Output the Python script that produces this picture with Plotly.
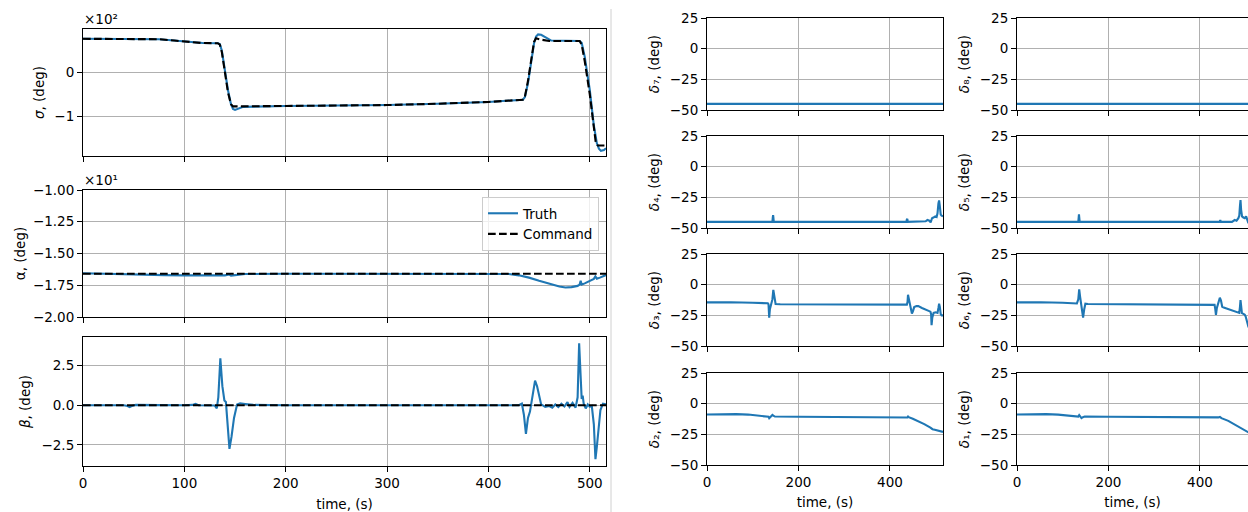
import plotly.graph_objects as go

W, H = 1248, 512

# ---------------- data ----------------
t_sig_cmd = [0, 60, 75, 90, 105, 118, 133, 135, 137, 140, 143, 146, 148, 200, 250, 300, 350, 400,
             434, 436, 439, 442, 445, 447, 452, 460, 490, 492, 495, 500, 504, 506, 508, 516]
sig_cmd = [75, 75, 74, 71, 67.5, 65.5, 65, 62, 45, 0, -45, -72, -77, -76, -75, -74, -71, -67,
           -62, -55, -20, 30, 68, 76, 73, 70, 70, 62, 25, -50, -130, -160, -165, -165]

t_sig = [0, 60, 75, 90, 105, 118, 133, 135, 137, 140, 143, 146, 148, 150, 153, 158, 200, 250, 300,
         350, 400, 434, 436, 439, 442, 445, 447, 449, 452, 456, 462, 490, 492, 495, 500, 504, 507,
         509, 511, 514, 516]
sig_truth = [75, 75, 74, 71, 67.5, 65.5, 65, 63, 48, 5, -40, -72, -83, -85, -82, -78, -76, -75, -74,
             -71, -67, -62, -56, -25, 25, 65, 80, 85, 84, 78, 71, 70, 66, 35, -40, -120, -160,
             -172, -177, -175, -171]

t_alpha_cmd = [0, 516]
alpha_cmd = [-16.6, -16.6]
t_alpha = [0, 20, 40, 60, 80, 100, 120, 140, 144, 146, 150, 160, 200, 300, 400, 420, 430, 440, 450,
           460, 470, 476, 482, 488, 490, 491, 492, 495, 500, 504, 505.5, 507, 510, 516]
alpha_truth = [-16.55, -16.6, -16.62, -16.66, -16.7, -16.72, -16.73, -16.72, -16.65, -16.75, -16.7,
               -16.62, -16.6, -16.6, -16.6, -16.62, -16.72, -16.9, -17.15, -17.4, -17.6, -17.68,
               -17.65, -17.55, -17.45, -17.15, -17.45, -17.35, -17.15, -17.0, -16.8, -16.98,
               -16.9, -16.7]

t_beta_cmd = [0, 516]
beta_cmd = [0, 0]
t_beta = [0, 40, 44, 46, 48, 52, 100, 108, 111, 114, 130, 132, 133.5, 135.5, 137.5, 139.5, 141,
          142.5, 144.5, 146.5, 149, 152, 155, 160, 168, 200, 250, 300, 400, 430, 433, 435, 437,
          439, 441, 443, 446, 448, 450, 452, 456, 460, 463, 466, 469, 472, 475, 478, 480, 483,
          486, 488, 489.5, 491, 492, 493, 494, 496, 498, 500, 502, 504, 505.6, 507, 508.5, 510.5,
          513, 516]
beta_truth = [0, 0, -0.05, -0.12, -0.05, 0.02, 0, 0.02, 0.08, 0, -0.02, -0.2, 0.5, 2.95, 1.2, 0.3,
              0.2, -1.0, -2.75, -2.0, -0.8, 0.05, 0.12, 0.08, 0.02, 0, 0, 0, 0, 0, 0.1, -0.6, -1.8,
              -0.8, -0.4, 0.3, 1.55, 1.2, 0.5, 0.05, -0.1, -0.05, -0.15, 0.05, -0.12, 0.1, -0.08,
              0.2, -0.1, 0.15, -0.15, 0.5, 3.9, 1.5, 0.4, 0.6, 0.1, -0.2, 0.05, -0.1, -0.05, -1.2,
              -3.4, -2.6, -1.4, -0.3, 0.1, 0.05]

t_d7 = [0, 516]
d7 = [-45, -45]
t_d8 = [0, 516]
d8 = [-45, -45]

t_d4 = [0, 143, 144, 144.5, 145, 146, 436, 437, 438, 439, 470, 478, 482, 486, 489, 492, 495, 499,
        502, 504, 506, 507.5, 509, 511, 513, 516]
d4 = [-45, -45, -41, -39.5, -41, -45, -45, -43, -42.5, -45, -45, -44.5, -43.5, -44, -45.5, -42,
      -41.5, -40.5, -41, -38, -30, -27.5, -32, -39, -40, -40.5]

t_d5 = [0, 134, 135, 135.5, 136, 137, 443, 444, 444.5, 445.5, 470, 476, 480, 484, 486, 487.5,
        488.7, 490, 492, 495, 498, 501, 503, 505, 508, 512, 516]
d5 = [-45, -45, -41, -38.8, -41, -45, -45, -44, -43.5, -45, -45, -43.5, -44, -42, -40, -32, -27.2,
      -35, -40.5, -41.5, -42, -40.5, -43, -45, -44, -42, -43]

t_d3 = [0, 40, 46, 52, 100, 133, 134.5, 136, 137.5, 140, 143, 145, 147, 150, 160, 200, 300, 400,
        437, 438.5, 439.5, 441, 443, 445, 448, 450, 453, 458, 462, 470, 480, 486, 488.5, 490, 491,
        492.5, 495.5, 500, 504, 506, 507.5, 509, 511, 513, 516]
d3 = [-14.4, -14.3, -13.9, -14.3, -14.7, -15.2, -16, -27, -20, -15.5, -12, -4.3, -9, -15.7, -16,
      -16, -16.2, -16.3, -16.3, -14, -8.2, -11, -15.5, -18, -23.5, -22, -18.3, -17.5, -17.5, -19,
      -20.5, -21.5, -22, -24, -33, -27, -23, -22.5, -23, -19, -15.5, -18, -24, -25, -25]

t_d6 = [0, 40, 46, 52, 100, 131, 134, 136, 138, 140, 142.5, 144.5, 147, 149.5, 155, 200, 300, 400,
        432, 433.5, 435, 437, 440, 443.5, 446, 448.7, 452, 462, 470, 480, 484, 486, 487.5, 488.7,
        490, 491.7, 495, 498, 500, 502, 504, 505.5, 508, 512, 516]
d6 = [-14.4, -14.3, -13.9, -14.3, -14.7, -15.3, -12, -3.8, -10, -16, -22, -26.9, -20, -15.5, -15.8,
      -16, -16.3, -16.5, -16.5, -20, -24.7, -19, -15, -10.6, -13, -18, -18.7, -20, -21, -22.2,
      -22.7, -23, -18, -12.5, -17, -23.2, -23.8, -24.5, -26, -30, -32, -33.7, -33, -31, -30]

t_d2 = [0, 30, 64, 90, 110, 130, 134.5, 136, 138, 141, 143, 145, 148.5, 200, 300, 400, 436, 438,
        439.5, 441, 450, 462, 475, 488.5, 493, 498, 502, 506, 510, 513, 516]
d2 = [-8.8, -8.6, -8.5, -8.9, -9.5, -10.3, -10.7, -11.8, -11, -10, -9.2, -9.8, -10.5, -10.7, -10.8,
      -11, -11, -11.3, -10.5, -11, -12.3, -14.2, -16.7, -19.5, -20.8, -21.2, -21.5, -21.8, -22.3,
      -22.6, -23]

t_d1 = [0, 30, 64, 90, 110, 130, 134, 136, 138.5, 141, 144, 148, 200, 300, 400, 433, 436.5, 440,
        443.6, 447, 462, 483.5, 495, 505.5, 510, 516]
d1 = [-8.8, -8.6, -8.5, -8.9, -9.5, -10.3, -10.5, -9.3, -10.5, -11.7, -11, -10.5, -10.7, -10.8,
      -11, -11, -11.5, -11.2, -10.8, -11.8, -14, -18.6, -21.2, -23.6, -24.5, -25.5]

# tick labels
left_xticks = [0, 100, 200, 300, 400, 500]
sig_ticks = [-100, 0]
sig_ticktext = ["\u22121", "0"]
alpha_ticks = [-20, -17.5, -15, -12.5, -10]
alpha_ticktext = ["\u22122.00", "\u22121.75", "\u22121.50", "\u22121.25", "\u22121.00"]
beta_ticks = [-2.5, 0, 2.5]
beta_ticktext = ["\u22122.5", "0.0", "2.5"]
delta_ticks = [-50, -25, 0, 25]
delta_ticktext = ["\u221250", "\u221225", "0", "25"]
right_xticks = [0, 200, 400]

# ---------------- styling ----------------
BLUE = "#1f77b4"
FONT = "DejaVu Sans"
FS = 13.5
GRID = "#b0b0b0"
T_END = 516.0

def xd(a, b):
    return [a / W, min(b / W, 1.0)]

def yd(top, bot):
    return [1 - bot / H, 1 - top / H]

fig = go.Figure()

def axis_common():
    return dict(showgrid=True, gridcolor=GRID, gridwidth=1.1, zeroline=False,
                showline=True, linecolor="black", linewidth=1.1, mirror=True,
                ticks="outside", ticklen=5, tickwidth=1.1, tickcolor="black",
                automargin=False,
                tickfont=dict(family=FONT, size=FS, color="black"))

layout = {}

# left column
left_x = xd(83, 606)
left_rows = [(29, 156), (190, 317), (337, 466)]
left_y = [
    (sig_ticks, sig_ticktext, [-188.5, 97], "<i>σ</i>, (deg)", 6),
    (alpha_ticks, alpha_ticktext, [-20, -10], "α, (deg)", 4),
    (beta_ticks, beta_ticktext, [-3.83, 4.3], "<i>β</i>, (deg)", 7),
]
for i in range(3):
    n = i + 1
    xa = axis_common()
    xa.update(domain=left_x, range=[0, T_END], tickvals=left_xticks,
              anchor="y%d" % n)
    if i < 2:
        xa.update(showticklabels=False)
    else:
        xa.update(ticktext=[str(v) for v in left_xticks],
                  title=dict(text="time, (s)", font=dict(family=FONT, size=FS, color="black"),
                             standoff=9))
    ya = axis_common()
    tv, tt, rg, ttl, so = left_y[i]
    ya.update(domain=yd(*left_rows[i]), range=rg, tickvals=tv, ticktext=tt,
              anchor="x%d" % n,
              title=dict(text=ttl, font=dict(family=FONT, size=FS, color="black"), standoff=so))
    layout["xaxis%d" % n if n > 1 else "xaxis"] = xa
    layout["yaxis%d" % n if n > 1 else "yaxis"] = ya

# right columns
right_rows = [(18, 110), (136, 228), (254, 346), (373, 465)]
px_per_s = 236.0 / T_END
col_specs = [
    (707, 943, ["<i>δ</i>\u2087, (deg)", "<i>δ</i>\u2084, (deg)",
                "<i>δ</i>\u2083, (deg)", "<i>δ</i>\u2082, (deg)"]),
    (1017, 1017 + 236, ["<i>δ</i>\u2088, (deg)", "<i>δ</i>\u2085, (deg)",
                        "<i>δ</i>\u2086, (deg)", "<i>δ</i>\u2081, (deg)"]),
]
axis_index = {}
n = 4
for c, (x0, x1, titles) in enumerate(col_specs):
    for r in range(4):
        xa = axis_common()
        if x1 > W:
            xr = [0, (W - x0) / px_per_s]
        else:
            xr = [0, T_END]
        xa.update(domain=xd(x0, x1), range=xr, tickvals=right_xticks, anchor="y%d" % n)
        if r < 3:
            xa.update(showticklabels=False)
        else:
            xa.update(ticktext=[str(v) for v in right_xticks],
                      title=dict(text="time, (s)", font=dict(family=FONT, size=FS, color="black"),
                                 standoff=8))
        ya = axis_common()
        ya.update(domain=yd(*right_rows[r]), range=[-50, 25], tickvals=delta_ticks,
                  ticktext=delta_ticktext, anchor="x%d" % n,
                  title=dict(text=titles[r], font=dict(family=FONT, size=FS, color="black"),
                             standoff=7))
        if x1 > W:
            ya.update(mirror=False)
        layout["xaxis%d" % n] = xa
        layout["yaxis%d" % n] = ya
        axis_index[(c, r)] = n
        n += 1

def add_line(t, v, ax, color=BLUE, dash=None, name=None, legend=False):
    suffix = "" if ax == 1 else str(ax)
    fig.add_trace(go.Scatter(x=t, y=v, mode="lines", name=name, showlegend=legend,
                             line=dict(color=color, width=2.1, dash=dash),
                             xaxis="x" + suffix, yaxis="y" + suffix))

DASH = "7.7px,3.3px"
add_line(t_sig, sig_truth, 1)
add_line(t_sig_cmd, sig_cmd, 1, color="black", dash=DASH)
add_line(t_alpha, alpha_truth, 2, name="Truth", legend=True)
add_line(t_alpha_cmd, alpha_cmd, 2, color="black", dash=DASH, name="Command", legend=True)
add_line(t_beta, beta_truth, 3)
add_line(t_beta_cmd, beta_cmd, 3, color="black", dash=DASH)

right_series = {
    (0, 0): (t_d7, d7), (0, 1): (t_d4, d4), (0, 2): (t_d3, d3), (0, 3): (t_d2, d2),
    (1, 0): (t_d8, d8), (1, 1): (t_d5, d5), (1, 2): (t_d6, d6), (1, 3): (t_d1, d1),
}
for key, (t, v) in right_series.items():
    add_line(t, v, axis_index[key])

annotations = [
    dict(text="×10\u00b2", x=83 / W, y=1 - 28 / H, xref="paper", yref="paper",
         xanchor="left", yanchor="bottom", showarrow=False, borderpad=0,
         font=dict(family=FONT, size=FS, color="black")),
    dict(text="×10\u00b9", x=83 / W, y=1 - 189 / H, xref="paper", yref="paper",
         xanchor="left", yanchor="bottom", showarrow=False, borderpad=0,
         font=dict(family=FONT, size=FS, color="black")),
]

shapes = [dict(type="line", xref="paper", yref="paper", x0=611 / W, x1=611 / W,
               y0=0, y1=1 - 9 / H, line=dict(color="#d0d0d0", width=1))]

fig.update_layout(
    width=W, height=H, margin=dict(l=0, r=0, t=0, b=0, autoexpand=False),
    paper_bgcolor="white", plot_bgcolor="white",
    font=dict(family=FONT, size=FS, color="black"),
    annotations=annotations, shapes=shapes,
    legend=dict(x=599 / W, y=1 - 197 / H, xanchor="right", yanchor="top",
                bgcolor="rgba(255,255,255,0.8)", bordercolor="#cccccc", borderwidth=1,
                font=dict(family=FONT, size=FS, color="black"), itemwidth=30),
    **layout,
)

fig.write_html("out.html", config={"displayModeBar": False},
               post_script="document.body.style.margin='0px';document.body.style.overflow='hidden';")
